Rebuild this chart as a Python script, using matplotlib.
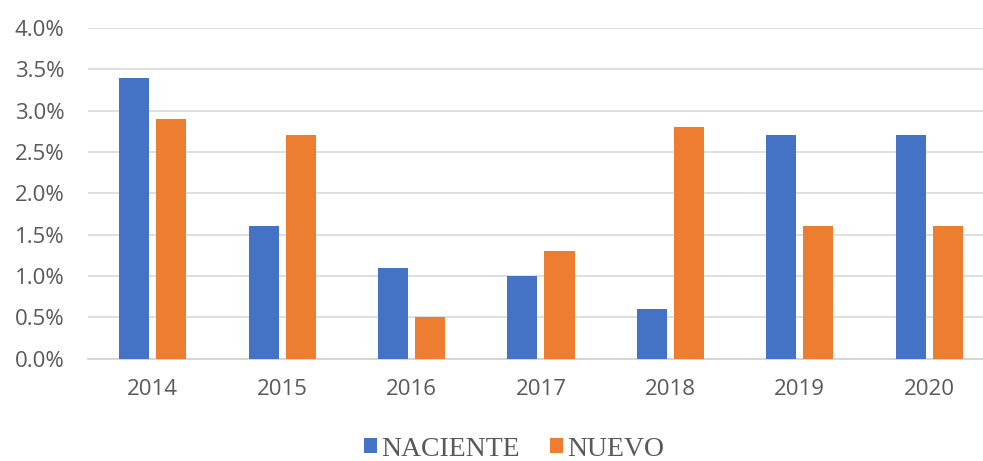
import matplotlib
matplotlib.use("Agg")
import matplotlib.pyplot as plt
import numpy as np
from matplotlib.ticker import FuncFormatter

years = ["2014", "2015", "2016", "2017", "2018", "2019", "2020"]
naciente = [3.4, 1.6, 1.1, 1.0, 0.6, 2.7, 2.7]
nuevo = [2.9, 2.7, 0.5, 1.3, 2.8, 1.6, 1.6]
yticks = [0.0, 0.5, 1.0, 1.5, 2.0, 2.5, 3.0, 3.5, 4.0]

fig = plt.figure(figsize=(9.83, 4.61), dpi=100)
ax = fig.add_axes([0.0895, 0.2220, 0.9217, 0.7172])

x = np.arange(len(years))
w = 0.232
gap = 0.054
ax.bar(x - (w + gap) / 2, naciente, w, color="#4472C4", label="NACIENTE", zorder=3)
ax.bar(x + (w + gap) / 2, nuevo, w, color="#ED7D31", label="NUEVO", zorder=3)

ax.set_xlim(-0.5, len(years) - 0.5)
ax.set_ylim(0, 4.0)
ax.set_yticks(yticks)
ax.yaxis.set_major_formatter(FuncFormatter(lambda v, p: f"{v:.1f}%"))
ax.set_xticks(x)
ax.set_xticklabels(years)
ax.grid(axis="y", color="#D9D9D9", linewidth=1.2, zorder=0)
for s in ["top", "right", "left"]:
    ax.spines[s].set_visible(False)
ax.spines["bottom"].set_color("#D0D0D0")
ax.spines["bottom"].set_linewidth(1.2)
ax.tick_params(axis="both", length=0, labelsize=16, labelcolor="#595959")
ax.tick_params(axis="y", pad=17)
ax.tick_params(axis="x", pad=15)
for lab in ax.get_xticklabels() + ax.get_yticklabels():
    lab.set_family("Open Sans")

leg = fig.legend(loc="center", bbox_to_anchor=(0.523, 0.026), ncol=2, frameon=False,
                 prop={"family": "Liberation Serif", "size": 20},
                 handlelength=0.45, handleheight=0.45, handletextpad=0.15, columnspacing=1.1)
for t in leg.get_texts():
    t.set_color("#595959")

fig.savefig("out.png", dpi=100)
